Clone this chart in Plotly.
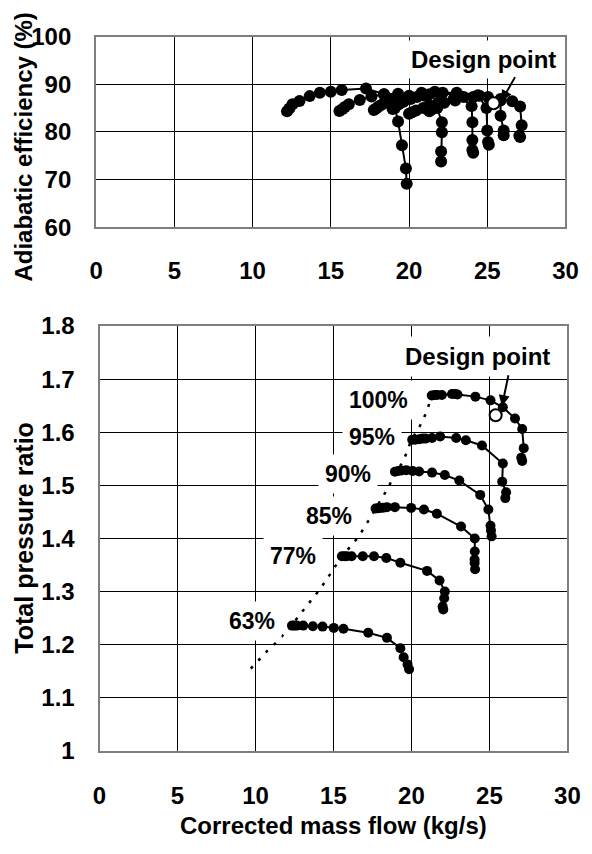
import plotly.graph_objects as go

# ---------------- data ----------------
speeds = ["63%", "77%", "85%", "90%", "95%", "100%"]

# Total pressure ratio map (bottom)
pr_m_63 = [12.34, 12.5, 12.65, 13.06, 13.68, 14.3, 15.02, 15.64, 17.23, 18.43, 19.29, 19.5, 19.75, 19.85]
pr_63 = [1.236, 1.236, 1.236, 1.236, 1.2347, 1.2341, 1.2317, 1.2299, 1.2226, 1.2129, 1.1934, 1.1765, 1.163, 1.1539]
pr_m_77 = [15.54, 15.7, 15.85, 16.16, 16.88, 17.6, 18.39, 19.29, 21.0, 21.8, 22.14, 22.1, 22.0, 22.04]
pr_77 = [1.3665, 1.3665, 1.3665, 1.3665, 1.3665, 1.3665, 1.3634, 1.3543, 1.339, 1.321, 1.300, 1.2876, 1.272, 1.2663]
pr_m_85 = [17.7, 17.85, 18.0, 18.2, 18.43, 18.94, 19.98, 20.8, 21.63, 23.18, 24.06, 24.06, 24.05, 24.05, 24.08]
pr_85 = [1.4563, 1.457, 1.4576, 1.458, 1.459, 1.459, 1.4576, 1.4545, 1.4466, 1.4224, 1.40, 1.3756, 1.3605, 1.354, 1.342]
pr_m_90 = [18.94, 19.15, 19.36, 19.67, 20.08, 20.49, 21.32, 22.14, 23.07, 24.41, 24.93, 25.07, 25.1, 25.14]
pr_90 = [1.5255, 1.527, 1.528, 1.5286, 1.527, 1.526, 1.524, 1.5195, 1.509, 1.482, 1.4545, 1.424, 1.415, 1.404]
pr_m_95 = [20.05, 20.25, 20.5, 20.7, 20.9, 21.32, 21.84, 22.87, 23.49, 24.52, 25.86, 25.82, 26.07, 26.02]
pr_95 = [1.586, 1.586, 1.587, 1.588, 1.588, 1.589, 1.592, 1.589, 1.585, 1.575, 1.541, 1.507, 1.487, 1.476]
pr_m_100 = [21.3, 21.5, 21.65, 21.95, 22.6, 22.8, 22.95, 24.1, 25.07, 25.86, 26.64, 27.1, 27.2, 27.04, 27.1]
pr_100 = [1.669, 1.67, 1.67, 1.67, 1.672, 1.672, 1.671, 1.667, 1.66, 1.647, 1.626, 1.606, 1.57, 1.552, 1.546]

# Surge line (dotted)
surge_m = [9.7, 10.3, 10.9, 11.4, 12.3, 13.2, 14.1, 15.0, 15.5, 16.1, 16.6, 17.3, 17.7, 18.1, 18.55, 18.95, 19.45, 20.0, 20.5, 21.0, 21.3]
surge_pr = [1.155, 1.175, 1.193, 1.206, 1.236, 1.27, 1.303, 1.342, 1.366, 1.385, 1.403, 1.436, 1.457, 1.476, 1.497, 1.526, 1.543, 1.586, 1.609, 1.64, 1.67]

# Adiabatic efficiency map (top)
ef_m_63 = [12.2, 12.35, 12.55, 13.0, 13.65, 14.3, 15.0, 15.7, 17.25, 18.4, 19.1, 19.3, 19.55, 19.8, 19.85]
ef_63 = [84.3, 84.9, 85.8, 86.5, 87.5, 88.2, 88.4, 88.8, 89.1, 87.9, 85.0, 82.2, 77.2, 72.3, 69.1]
ef_m_77 = [15.55, 15.75, 15.9, 16.15, 16.85, 17.6, 18.4, 19.3, 21.0, 21.8, 22.1, 22.1, 22.05, 22.05]
ef_77 = [84.4, 84.8, 85.2, 85.8, 86.7, 87.4, 87.9, 88.0, 87.6, 85.0, 82.0, 79.9, 75.9, 73.8]
ef_m_85 = [17.75, 17.9, 18.05, 18.25, 18.5, 19.0, 20.0, 20.8, 21.65, 23.2, 24.0, 24.05, 24.05, 24.05, 24.1]
ef_85 = [84.6, 84.9, 85.3, 85.7, 86.1, 86.8, 87.6, 88.2, 88.4, 87.6, 85.4, 82.0, 78.3, 76.2, 75.6]
ef_m_90 = [18.95, 19.1, 19.35, 19.65, 20.1, 20.5, 21.3, 22.15, 23.05, 24.4, 24.95, 25.0, 25.05, 25.1]
ef_90 = [84.8, 85.3, 85.8, 86.3, 86.9, 87.3, 87.9, 88.2, 88.2, 87.7, 85.0, 80.3, 77.9, 77.3]
ef_m_95 = [20.0, 20.2, 20.45, 20.9, 21.3, 21.85, 22.85, 23.5, 24.5, 25.85, 25.85, 26.05, 26.05]
ef_95 = [83.8, 84.1, 84.5, 85.0, 85.6, 86.1, 86.9, 87.3, 87.6, 86.6, 83.4, 80.3, 79.3]
ef_m_100 = [21.3, 21.45, 21.6, 21.85, 22.25, 22.95, 24.1, 25.05, 25.85, 26.6, 27.1, 27.2, 27.05, 27.1]
ef_100 = [84.3, 84.7, 85.1, 85.5, 86.1, 86.6, 87.3, 87.3, 86.9, 86.4, 85.3, 81.4, 79.2, 78.9]

# Design point
design_m = 25.4
design_pr = 1.632
design_eff = 86.0

# Speed label positions (mass flow, pressure ratio)
label_m = [9.77, 12.41, 14.72, 15.96, 17.45, 17.86]
label_pr = [1.245, 1.3665, 1.4424, 1.521, 1.591, 1.661]

x_ticks = [0, 5, 10, 15, 20, 25, 30]
eff_ticks = [60, 70, 80, 90, 100]
pr_ticks = [1.0, 1.1, 1.2, 1.3, 1.4, 1.5, 1.6, 1.7, 1.8]

# ---------------- figure ----------------
# the page body has an 8 px default margin, so the figure is 8 px smaller
OFF = 8
W, H = 592 - OFF, 854 - OFF
FONT = "Liberation Sans, Arial, sans-serif"
FS = 23      # in-plot labels
FTK = 24     # tick labels

def px(v):
    return (v - OFF) / W

def py(v):
    return 1 - (v - OFF) / H

fig = go.Figure()

pr_sets = [(pr_m_63, pr_63), (pr_m_77, pr_77), (pr_m_85, pr_85),
           (pr_m_90, pr_90), (pr_m_95, pr_95), (pr_m_100, pr_100)]
ef_sets = [(ef_m_63, ef_63), (ef_m_77, ef_77), (ef_m_85, ef_85),
           (ef_m_90, ef_90), (ef_m_95, ef_95), (ef_m_100, ef_100)]

for (mx, ey), name in zip(ef_sets, speeds):
    fig.add_trace(go.Scatter(x=mx, y=ey, mode="lines+markers", name=name,
                             line=dict(color="black", width=2),
                             marker=dict(color="black", size=12),
                             xaxis="x", yaxis="y", showlegend=False))
fig.add_trace(go.Scatter(x=[design_m], y=[design_eff], mode="markers",
                         marker=dict(color="white", size=12, line=dict(color="black", width=2)),
                         xaxis="x", yaxis="y", showlegend=False))

fig.add_trace(go.Scatter(x=surge_m, y=surge_pr, mode="lines",
                         line=dict(color="black", width=2.5, dash="3px,8px"),
                         xaxis="x2", yaxis="y2", showlegend=False))
for (mx, ry), name in zip(pr_sets, speeds):
    fig.add_trace(go.Scatter(x=mx, y=ry, mode="lines+markers", name=name,
                             line=dict(color="black", width=2),
                             marker=dict(color="black", size=10),
                             xaxis="x2", yaxis="y2", showlegend=False))
fig.add_trace(go.Scatter(x=[design_m], y=[design_pr], mode="markers",
                         marker=dict(color="white", size=12, line=dict(color="black", width=2)),
                         xaxis="x2", yaxis="y2", showlegend=False))

axis_common = dict(showgrid=True, gridcolor="black", gridwidth=1,
                   showline=True, linecolor="#7f7f7f", linewidth=2, mirror=True,
                   zeroline=False, ticks="",
                   tickfont=dict(family=FONT, size=FTK, color="black", weight="bold"))

fig.update_layout(
    width=W, height=H,
    margin=dict(l=0, r=0, t=0, b=0),
    paper_bgcolor="white", plot_bgcolor="white",
    xaxis=dict(domain=[px(92), px(578)], range=[0, 30], tickvals=x_ticks,
               anchor="y", ticklabelstandoff=21, **axis_common),
    yaxis=dict(domain=[py(220), py(23)], range=[60, 100], tickvals=eff_ticks,
               anchor="x", ticklabelstandoff=18, **axis_common),
    xaxis2=dict(domain=[px(95.5), px(580)], range=[0, 30], tickvals=x_ticks,
                anchor="y2", ticklabelstandoff=22, **axis_common),
    yaxis2=dict(domain=[py(761), py(322)], range=[1, 1.8], tickvals=pr_ticks,
                ticktext=["1", "1.1", "1.2", "1.3", "1.4", "1.5", "1.6", "1.7", "1.8"],
                anchor="x2", ticklabelstandoff=18, **axis_common),
    showlegend=False,
)

def bold(size):
    return dict(family=FONT, size=size, color="black", weight="bold")

ann = []
# axis titles
ann.append(dict(text="Adiabatic efficiency (%)", x=px(17), y=py(137), xref="paper", yref="paper",
                textangle=-90, showarrow=False, font=bold(24), xanchor="center", yanchor="middle"))
ann.append(dict(text="Total pressure ratio", x=px(17), y=py(541), xref="paper", yref="paper",
                textangle=-90, showarrow=False, font=bold(25), xanchor="center", yanchor="middle"))
ann.append(dict(text="Corrected mass flow (kg/s)", x=px(338), y=py(838), xref="paper", yref="paper",
                showarrow=False, font=bold(24), xanchor="center", yanchor="middle"))
# speed labels
for t, lm, lp in zip(speeds, label_m, label_pr):
    ann.append(dict(text=t, x=lm, y=lp, xref="x2", yref="y2", showarrow=False,
                    font=bold(FS), bgcolor="white", borderpad=6))
# design point labels + arrows
ann.append(dict(text="Design point", x=24.75, y=95.1, xref="x", yref="y", showarrow=False,
                font=bold(24), bgcolor="white", borderpad=5))
ann.append(dict(text="", x=25.9, y=86.4, xref="x", yref="y", ax=26.83, ay=91.8,
                axref="x", ayref="y", showarrow=True, arrowhead=2, arrowsize=1.1,
                arrowwidth=2, arrowcolor="black"))
ann.append(dict(text="Design point", x=24.22, y=1.743, xref="x2", yref="y2", showarrow=False,
                font=bold(24), bgcolor="white", borderpad=6))
ann.append(dict(text="", x=25.8, y=1.649, xref="x2", yref="y2", ax=26.24, ay=1.71,
                axref="x2", ayref="y2", showarrow=True, arrowhead=2, arrowsize=1.1,
                arrowwidth=2, arrowcolor="black"))
fig.update_layout(annotations=ann)

fig.write_html("out.html")
